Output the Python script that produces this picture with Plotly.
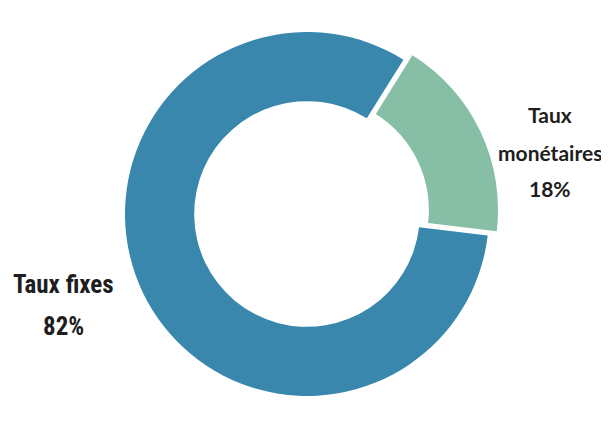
import plotly.graph_objects as go

labels = ["Taux monétaires", "Taux fixes"]
values = [18, 82]
colors = ["#86BFA5", "#3A87AD"]
pulls = [0.055, 0.0]

W, H = 609, 426
OFF = 8  # page body margin offset compensation

def px_x(x):
    return (x - OFF) / W

def px_y(y):
    return 1 - (y - OFF) / H

fig = go.Figure()
fig.add_trace(go.Pie(
    labels=labels,
    values=values,
    hole=0.62,
    sort=False,
    direction="clockwise",
    rotation=32,
    pull=pulls,
    marker=dict(colors=colors, line=dict(color="white", width=0)),
    textinfo="none",
    hoverinfo="label+percent",
    showlegend=False,
    domain=dict(x=[px_x(115), px_x(499)], y=[px_y(410), px_y(18)]),
))

left_lines = ["Taux fixes", f"{values[1]}%"]
left_y = [284, 326]
right_lines = ["Taux", "monétaires", f"{values[0]}%"]
right_y = [114, 152, 188]

for txt, y in zip(left_lines, left_y):
    fig.add_annotation(
        x=px_x(63), y=px_y(y), xref="paper", yref="paper",
        text=f"<b>{txt}</b>", showarrow=False, xanchor="center", yanchor="middle",
        font=dict(family="Liberation Sans Narrow, Roboto Condensed, Roboto", size=25, color="#1E1E1E"),
    )
for txt, y in zip(right_lines, right_y):
    fig.add_annotation(
        x=px_x(550), y=px_y(y), xref="paper", yref="paper",
        text=f"<b>{txt}</b>", showarrow=False, xanchor="center", yanchor="middle",
        font=dict(family="Lato, Open Sans", size=21, color="#1E1E1E"),
    )

fig.update_layout(
    width=W, height=H,
    margin=dict(l=0, r=0, t=0, b=0),
    paper_bgcolor="white", plot_bgcolor="white",
)

fig.write_html("out.html")
